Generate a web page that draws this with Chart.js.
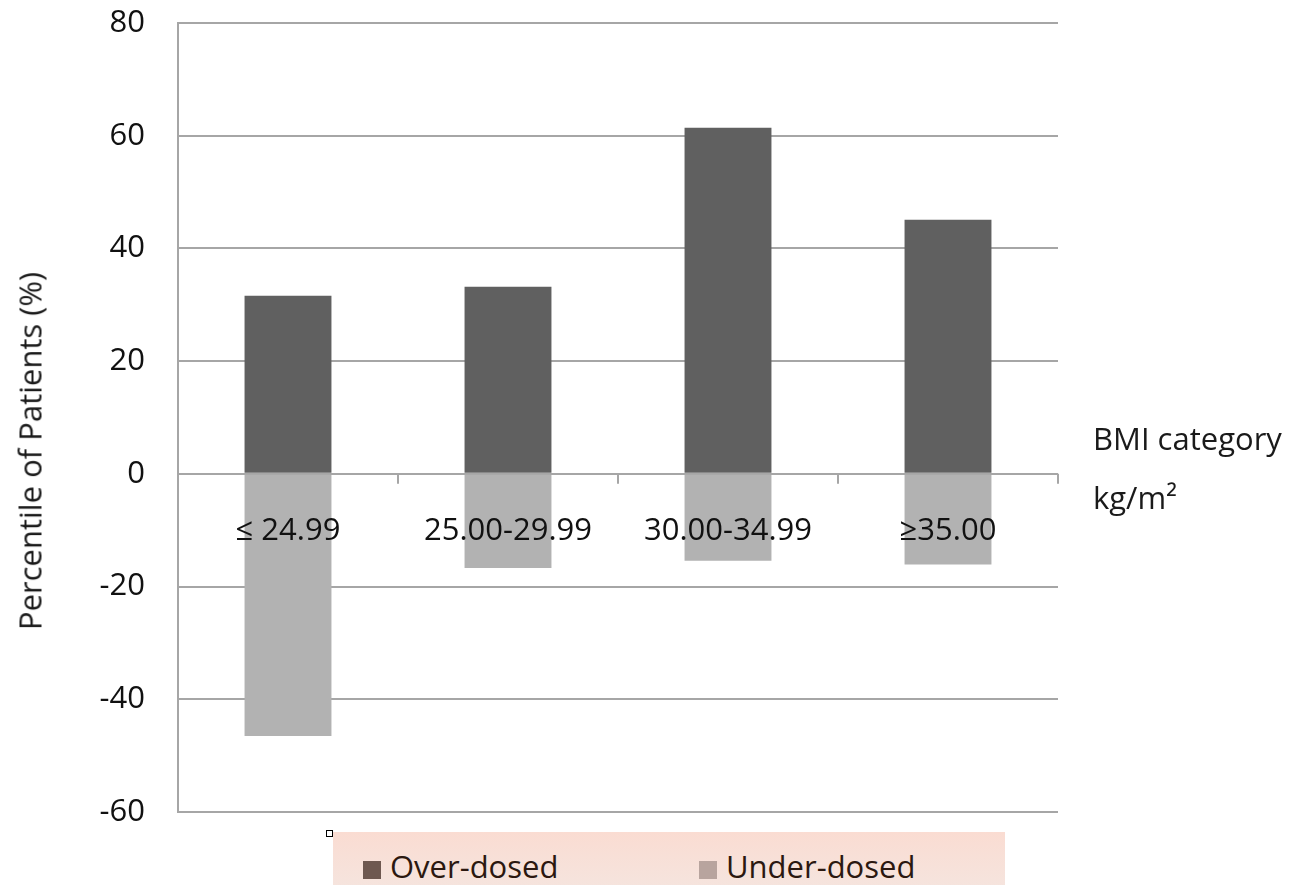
<!DOCTYPE html>
<html>
<head>
<meta charset="utf-8">
<script src="https://cdn.jsdelivr.net/npm/chart.js@4.4.1/dist/chart.umd.min.js"></script>
<style>
  html, body { margin:0; padding:0; background:#fff; overflow:hidden; }
  #wrap { position:relative; width:1293px; height:885px; }
  #c { position:absolute; left:0; top:0; }
  .side { position:absolute; font-family:"Open Sans", sans-serif; font-size:31px; color:#1a1a1a; white-space:nowrap; }
  #ytitle { position:absolute; left:30px; top:451px; transform:translate(-50%,-50%) rotate(-90deg);
    font-family:"Open Sans", sans-serif; font-size:31px; color:#1a1a1a; white-space:nowrap; line-height:1; }
  #legend { position:absolute; left:333px; top:832px; width:672px; height:60px;
    background:linear-gradient(#fadcd2, #f5e5df); font-family:"Open Sans", sans-serif; font-size:31px; color:#2b1810; }
  .lg { position:absolute; top:14px; white-space:nowrap; line-height:40px; }
  .sw { display:inline-block; width:18px; height:18px; margin-right:9px; vertical-align:-1px; }
  #mark { position:absolute; left:326px; top:830px; width:5px; height:5px; border:1px solid #000; background:#fff; }
</style>
</head>
<body>
<div id="wrap">
  <canvas id="c" width="1293" height="885"></canvas>
  <div id="ytitle">Percentile of Patients (%)</div>
  <div class="side" style="left:1093px; top:417px;">BMI category</div>
  <div class="side" style="left:1093px; top:476px;">kg/m²</div>
  <div id="mark"></div>
  <div id="legend">
    <div class="lg" style="left:30px;"><span class="sw" style="background:#6e5850"></span>Over-dosed</div>
    <div class="lg" style="left:366px;"><span class="sw" style="background:#b8a49e"></span>Under-dosed</div>
  </div>
</div>
<script>
const categories = ["≤ 24.99", "25.00-29.99", "30.00-34.99", "≥35.00"];
const overDosed = [31.6, 33.2, 61.4, 45.1];
const underDosed = [-46.5, -16.7, -15.4, -16.1];
const yTicks = [80, 60, 40, 20, 0, -20, -40, -60];

const gridColor = "#a6a6a6";

// Category axis drawn on the zero line, above the bars
const zeroAxis = {
  id: "zeroAxis",
  afterDatasetsDraw(chart) {
    const ctx = chart.ctx, x = chart.scales.x, y = chart.scales.y;
    const y0 = y.getPixelForValue(0);
    ctx.save();
    ctx.strokeStyle = gridColor;
    ctx.lineWidth = 2;
    const n = categories.length;
    for (let i = 0; i < n; i++) {
      const bx = i + 1 < n ? (x.getPixelForValue(i) + x.getPixelForValue(i + 1)) / 2 : chart.chartArea.right;
      ctx.beginPath();
      ctx.moveTo(Math.round(bx), y0);
      ctx.lineTo(Math.round(bx), y0 + 10);
      ctx.stroke();
    }
    ctx.fillStyle = "#111";
    ctx.font = "31px 'Open Sans'";
    ctx.textAlign = "center";
    ctx.textBaseline = "middle";
    categories.forEach((c, i) => ctx.fillText(c, x.getPixelForValue(i), y0 + 57));
    ctx.restore();
  }
};

function draw() {
  new Chart(document.getElementById("c"), {
    type: "bar",
    data: {
      labels: categories,
      datasets: [
        { label: "Over-dosed", data: overDosed, backgroundColor: "#606060", categoryPercentage: 1, barPercentage: 0.395 },
        { label: "Under-dosed", data: underDosed, backgroundColor: "#b2b2b2", categoryPercentage: 1, barPercentage: 0.395 }
      ]
    },
    options: {
      responsive: false,
      animation: false,
      layout: { padding: { left: 0, right: 235, top: 23, bottom: 73 } },
      plugins: { legend: { display: false }, tooltip: { enabled: false } },
      scales: {
        x: { stacked: true, display: false, offset: true },
        y: {
          stacked: true,
          min: -60, max: 80,
          afterFit: s => { s.width = 178; },
          afterBuildTicks: s => { s.ticks = yTicks.map(v => ({ value: v })); },
          grid: { color: gridColor, lineWidth: 2, drawTicks: true, tickLength: 33, tickColor: "rgba(0,0,0,0)" },
          border: { color: gridColor, width: 2 },
          ticks: { color: "#111", font: { family: "Open Sans", size: 31 }, padding: 0 }
        }
      }
    },
    plugins: [zeroAxis]
  });
}
Promise.all([document.fonts.load("31px 'Open Sans'")]).then(draw, draw);
</script>
</body>
</html>
